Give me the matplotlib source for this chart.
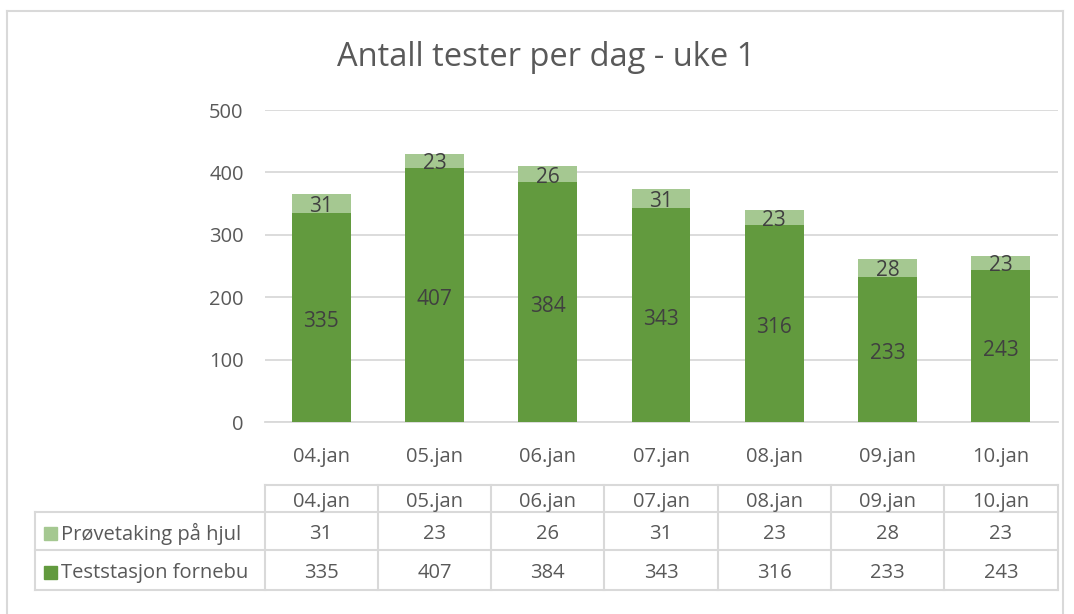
import matplotlib.pyplot as plt
import numpy as np
from matplotlib.lines import Line2D
from matplotlib.patches import Rectangle

# data
days = ["04.jan", "05.jan", "06.jan", "07.jan", "08.jan", "09.jan", "10.jan"]
fornebu = [335, 407, 384, 343, 316, 233, 243]
hjul = [31, 23, 26, 31, 23, 28, 23]
series_names = ["Prøvetaking på hjul", "Teststasjon fornebu"]
title = "Antall tester per dag - uke 1"

dark_green = "#629a3e"
light_green = "#a5c891"
text_col = "#595959"
grid_col = "#d9d9d9"

plt.rcParams['font.family'] = ['Open Sans', 'DejaVu Sans']

W, H = 1074, 614
fig = plt.figure(figsize=(W / 100, H / 100), dpi=100)

def fx(px):
    return px / W

def fy(py):
    return 1 - py / H

# outer chart border
fig.add_artist(Line2D([fx(7), fx(7)], [fy(11), fy(614)], color=grid_col, lw=1.5))
fig.add_artist(Line2D([fx(7), fx(1063)], [fy(11), fy(11)], color=grid_col, lw=1.5))
fig.add_artist(Line2D([fx(1063), fx(1063)], [fy(11), fy(614)], color=grid_col, lw=1.5))

left, right, top, bottom = 264.5, 1057.5, 110, 422
ax = fig.add_axes([fx(left), fy(bottom), fx(right - left), fy(top) - fy(bottom)])

x = np.arange(len(days))
b1 = ax.bar(x, fornebu, width=0.52, color=dark_green, zorder=3)
b2 = ax.bar(x, hjul, width=0.52, bottom=fornebu, color=light_green, zorder=3)
ax.bar_label(b1, label_type='center', color="#404040", fontsize=15, padding=-3)
ax.bar_label(b2, label_type='center', color="#404040", fontsize=15, padding=-2)

ax.set_xlim(-0.5, len(days) - 0.5)
ax.set_ylim(0, 500)
ax.set_yticks(range(0, 501, 100))
ax.yaxis.grid(True, color=grid_col, lw=1.3, zorder=0)
for s in ["top", "right", "left"]:
    ax.spines[s].set_visible(False)
ax.spines["bottom"].set_color(grid_col)
ax.spines["bottom"].set_linewidth(1.3)
ax.tick_params(length=0, labelsize=14.5, labelcolor=text_col)
ax.tick_params(axis='x', pad=18)
ax.tick_params(axis='y', pad=15)
ax.set_xticks(x)
ax.set_xticklabels(days)

fig.text(fx(546), fy(58), title, ha='center', va='center', fontsize=23.5, color=text_col)

# data table below the chart
tab = fig.add_axes([0, 0, 1, 1])
tab.set_xlim(0, W)
tab.set_ylim(H, 0)
tab.axis('off')
col_w = (right - left) / len(days)
rows_y = [485, 512, 550, 590]
label_x0 = 35
lc = grid_col
lw = 1.5
# horizontal lines
tab.plot([left, right], [rows_y[0], rows_y[0]], color=lc, lw=lw)
for yy in rows_y[1:]:
    tab.plot([label_x0, right], [yy, yy], color=lc, lw=lw)
# vertical lines
tab.plot([label_x0, label_x0], [rows_y[1], rows_y[3]], color=lc, lw=lw)
for i in range(len(days) + 1):
    xx = left + i * col_w
    tab.plot([xx, xx], [rows_y[0], rows_y[3]], color=lc, lw=lw)

fs = 14.5
dy = 3
for i, d in enumerate(days):
    cx = left + (i + 0.5) * col_w
    tab.text(cx, (rows_y[0] + rows_y[1]) / 2 + dy, d, ha='center', va='center', fontsize=fs, color=text_col)
    tab.text(cx, (rows_y[1] + rows_y[2]) / 2 + dy, str(hjul[i]), ha='center', va='center', fontsize=fs, color=text_col)
    tab.text(cx, (rows_y[2] + rows_y[3]) / 2 + dy, str(fornebu[i]), ha='center', va='center', fontsize=fs, color=text_col)

for r, (name, col) in enumerate(zip(series_names, [light_green, dark_green])):
    cy = (rows_y[r + 1] + rows_y[r + 2]) / 2
    tab.add_patch(Rectangle((44, cy - 6.5 + 2), 13, 13, color=col))
    tab.text(61, cy + dy, name, ha='left', va='center', fontsize=fs, color=text_col)

fig.savefig("out.png", dpi=100)
